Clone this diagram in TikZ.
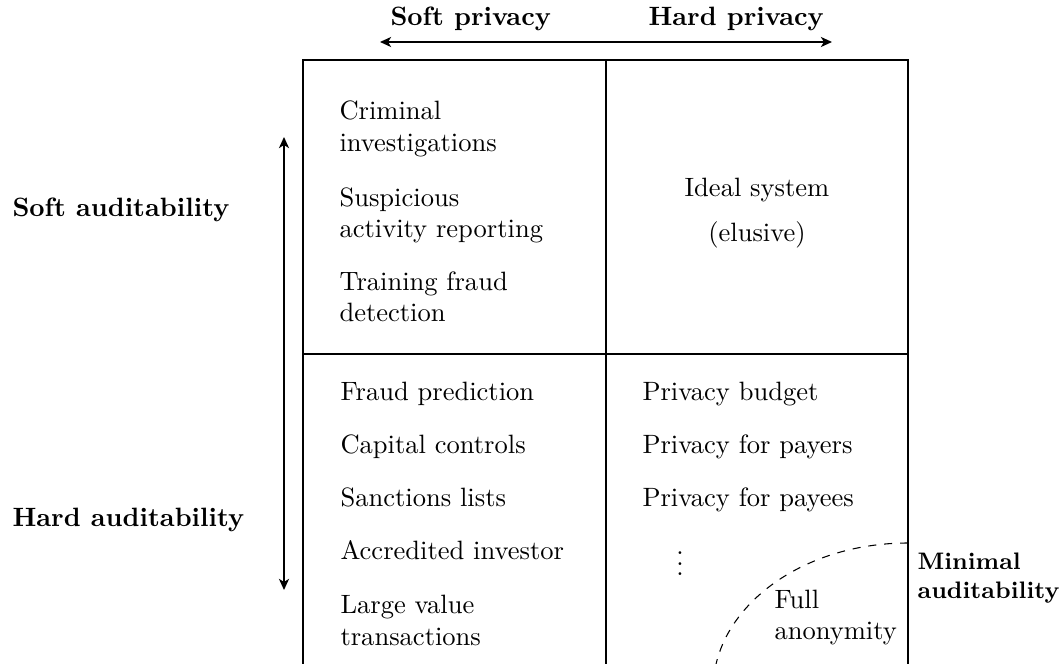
\documentclass[tikz,border=0pt]{standalone}
\usetikzlibrary{arrows.meta}
\begin{document}
\begin{tikzpicture}[x=0.377pt, y=-0.377pt,
  frame/.style={line width=0.4pt},
  axisarrow/.style={line width=0.8pt,
    {Stealth[length=4.2pt,width=3.8pt,inset=1.2pt]}-{Stealth[length=4.2pt,width=3.8pt,inset=1.2pt]}},
  % multi-line nodes: the base anchor sits on the last line's baseline
  item/.style={anchor=base west, align=left, inner sep=0pt},
  axislabel/.style={anchor=base west, inner sep=0pt, font=\bfseries},
]
\useasboundingbox (0,0) rectangle (1062,664);
\clip (0,0) rectangle (1062,664);

% quadrant frame
\coordinate (tl) at (303,60);
\coordinate (tr) at (908,60);
\coordinate (bl) at (303,686);
\coordinate (br) at (908,686);
\coordinate (tm) at (606,60);
\coordinate (bm) at (606,686);
\coordinate (ml) at (303,354);
\coordinate (mr) at (908,354);
\draw[frame] (tl) rectangle (br);
\draw[frame] (tm) -- (bm);
\draw[frame] (ml) -- (mr);

% privacy axis
\coordinate (pleft) at (380,42);
\coordinate (pright) at (832,42);
\draw[axisarrow] (pleft) -- (pright);
\node[axislabel] (softp) at (390,26) {Soft privacy};
\node[axislabel] (hardp) at (648,26) {Hard privacy};

% auditability axis
\coordinate (atop) at (284,137);
\coordinate (abot) at (284,590);
\draw[axisarrow] (atop) -- (abot);
\node[axislabel] (softa) at (12,217) {Soft auditability};
\node[axislabel] (harda) at (12,527) {Hard auditability};

% soft privacy, soft auditability
\node[item] (crim) at (339,151.5) {Criminal\\investigations};
\node[item] (sar)  at (339,238)   {Suspicious\\activity reporting};
\node[item] (tfd)  at (339,322)   {Training fraud\\detection};

% hard privacy, soft auditability
\node[anchor=base, align=center, inner sep=0pt] (ideal) at (757,241.7)
  {Ideal system\\[5pt](elusive)};

% soft privacy, hard auditability
\node[item] (fp)  at (340,400.7) {Fraud prediction};
\node[item] (cc)  at (340,454)   {Capital controls};
\node[item] (sl)  at (340,507)   {Sanctions lists};
\node[item] (ai)  at (340,560)   {Accredited investor};
\node[item] (lvt) at (340,645.5) {Large value\\transactions};

% hard privacy, hard auditability
\node[item] (pb)   at (642,401) {Privacy budget};
\node[item] (ppr)  at (642,454) {Privacy for payers};
\node[item] (ppe)  at (642,507) {Privacy for payees};
\node[anchor=base, inner sep=0pt] (more) at (680,576) {$\vdots$};

% full anonymity corner
\coordinate (mina) at (908,543);
\coordinate (minb) at (713,690);
\draw[dashed, line width=0.4pt] (mina) .. controls (800,543) and (713,609) .. (minb);
\node[item] (anon) at (774,640) {Full\\anonymity};
\node[item, font=\small\bfseries] (minaud) at (917,598.5) {Minimal\\auditability};
\end{tikzpicture}
\end{document}
